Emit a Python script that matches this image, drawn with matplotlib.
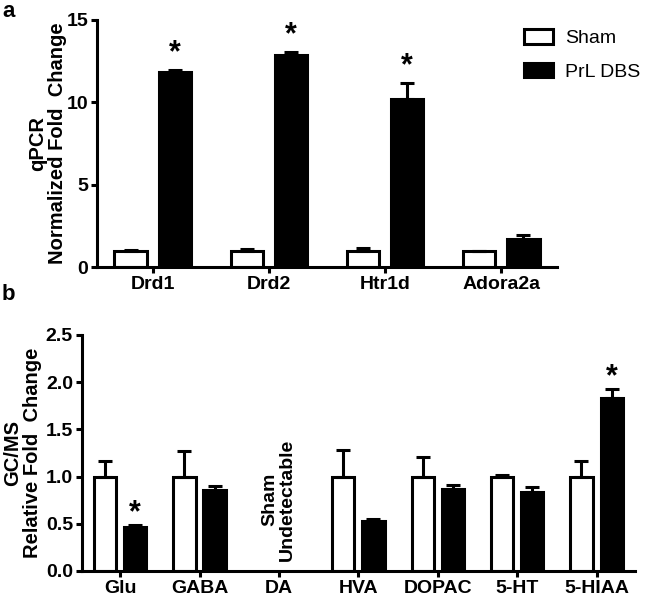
import numpy as np
import matplotlib
matplotlib.use("Agg")
import matplotlib.pyplot as plt
from matplotlib.patches import Patch

plt.rcParams['font.family'] = ['Liberation Sans', 'DejaVu Sans']
plt.rcParams['font.weight'] = 'bold'

# panel a: qPCR
genes = ['Drd1', 'Drd2', 'Htr1d', 'Adora2a']
sham_a = [1.0, 1.0, 1.0, 1.0]
sham_a_err = [0.02, 0.07, 0.13, 0.0]
dbs_a = [11.85, 12.87, 10.18, 1.72]
dbs_a_err = [0.1, 0.2, 0.97, 0.2]
star_a = [True, True, True, False]

# panel b: GC/MS
metab = ['Glu', 'GABA', 'DA', 'HVA', 'DOPAC', '5-HT', '5-HIAA']
sham_b = [1.0, 1.0, np.nan, 1.0, 1.0, 1.0, 1.0]
sham_b_err = [0.16, 0.27, 0, 0.28, 0.21, 0.02, 0.17]
dbs_b = [0.47, 0.86, np.nan, 0.53, 0.87, 0.84, 1.83]
dbs_b_err = [0.02, 0.04, 0, 0.02, 0.04, 0.05, 0.1]
star_b = [True, False, False, False, False, False, True]

W = 0.28
OFF = 0.19
LW = 2.2


def style(ax):
    for s in ['top', 'right']:
        ax.spines[s].set_visible(False)
    for s in ['left', 'bottom']:
        ax.spines[s].set_linewidth(2.2)
    ax.tick_params(width=2.2, length=4.5, labelsize=14, pad=2)
    for t in ax.get_xticklabels() + ax.get_yticklabels():
        t.set_fontweight('bold')


def draw(ax, cats, sham, sham_err, dbs, dbs_err, stars, star_gap):
    x = np.arange(len(cats))
    z = np.zeros(len(cats))
    ek = dict(elinewidth=LW, capthick=LW, capsize=5, ecolor='black')
    ax.bar(x - OFF, sham, W, color='white', edgecolor='black', linewidth=LW,
           yerr=[z, sham_err], error_kw=ek)
    ax.bar(x + OFF, dbs, W, color='black', edgecolor='black', linewidth=LW,
           yerr=[z, dbs_err], error_kw=ek)
    for i, s in enumerate(stars):
        if s:
            ax.text(x[i] + OFF, dbs[i] + dbs_err[i] + star_gap, '*', ha='center',
                    va='bottom', fontsize=22, fontweight='bold')
    ax.set_xticks(x)
    ax.set_xticklabels(cats)
    ax.set_xlim(-0.48, len(cats) - 0.52)


fig = plt.figure(figsize=(6.47, 5.98), dpi=100)

ax1 = fig.add_axes([0.150, 0.5535, 0.711, 0.4131])
draw(ax1, genes, sham_a, sham_a_err, dbs_a, dbs_a_err, star_a, 0.1)
ax1.set_ylim(0, 15)
ax1.set_yticks([0, 5, 10, 15])
ax1.set_ylabel('qPCR\nNormalized Fold  Change', fontsize=14.5, fontweight='bold',
               linespacing=1.05)
ax1.yaxis.set_label_coords(-0.065, 0.5)
style(ax1)

handles = [Patch(facecolor='white', edgecolor='black', linewidth=LW, label='Sham'),
           Patch(facecolor='black', edgecolor='black', linewidth=LW, label='PrL DBS')]
fig.legend(handles=handles, loc='upper left', bbox_to_anchor=(0.783, 0.98),
           frameon=False, prop={'size': 14, 'weight': 'normal'},
           handlelength=1.5, handleheight=0.75, labelspacing=0.8, handletextpad=0.6)

ax2 = fig.add_axes([0.1267, 0.0452, 0.8543, 0.3946])
draw(ax2, metab, sham_b, sham_b_err, dbs_b, dbs_b_err, star_b, -0.04)
ax2.set_ylim(0, 2.5)
ax2.set_yticks([0, 0.5, 1.0, 1.5, 2.0, 2.5])
ax2.set_yticklabels(['0.0', '0.5', '1.0', '1.5', '2.0', '2.5'])
ax2.set_ylabel('GC/MS\nRelative Fold  Change', fontsize=14.5, fontweight='bold',
               linespacing=1.05)
ax2.yaxis.set_label_coords(-0.072, 0.5)
style(ax2)
ax2.text(2, 0.11, 'Sham\nUndetectable', rotation=90, ha='center', va='bottom',
         fontsize=14, fontweight='bold', multialignment='center', linespacing=1.05)

fig.text(0.003, 0.998, 'a', fontsize=16, fontweight='bold', va='top')
fig.text(0.003, 0.525, 'b', fontsize=16, fontweight='bold', va='top')

fig.savefig('out.png', dpi=100)
